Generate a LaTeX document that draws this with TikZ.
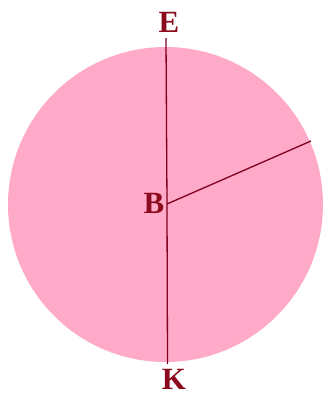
\documentclass[tikz,border=0pt]{standalone}
\usepackage{fontspec}
\setmainfont{Liberation Serif}
\definecolor{disk}{RGB}{255,170,200}
\definecolor{ln}{RGB}{128,0,32}
\definecolor{lbl}{RGB}{140,10,30}
\begin{document}
\begin{tikzpicture}[x=1bp,y=-1bp,
  lab/.style={text=lbl,font=\fontsize{31}{31}\selectfont\bfseries,inner sep=0pt},
  seg/.style={draw=ln,line width=1.3bp}]
\useasboundingbox (0,0) rectangle (326,396);
\fill[disk] (165.5,204.5) circle[radius=157.5];
\coordinate (top) at (166,38);
\coordinate (bot) at (167.5,364);
\coordinate (b) at (167,204);
\coordinate (r) at (311,141);
\node[lab] (E) at (169,22) {E};
\node[lab] (B) at (154,203.5) {B};
\node[lab] (K) at (174,379) {K};
\draw[seg] (top) -- (b) -- (bot);
\draw[seg] (b) -- (r);
\end{tikzpicture}
\end{document}
